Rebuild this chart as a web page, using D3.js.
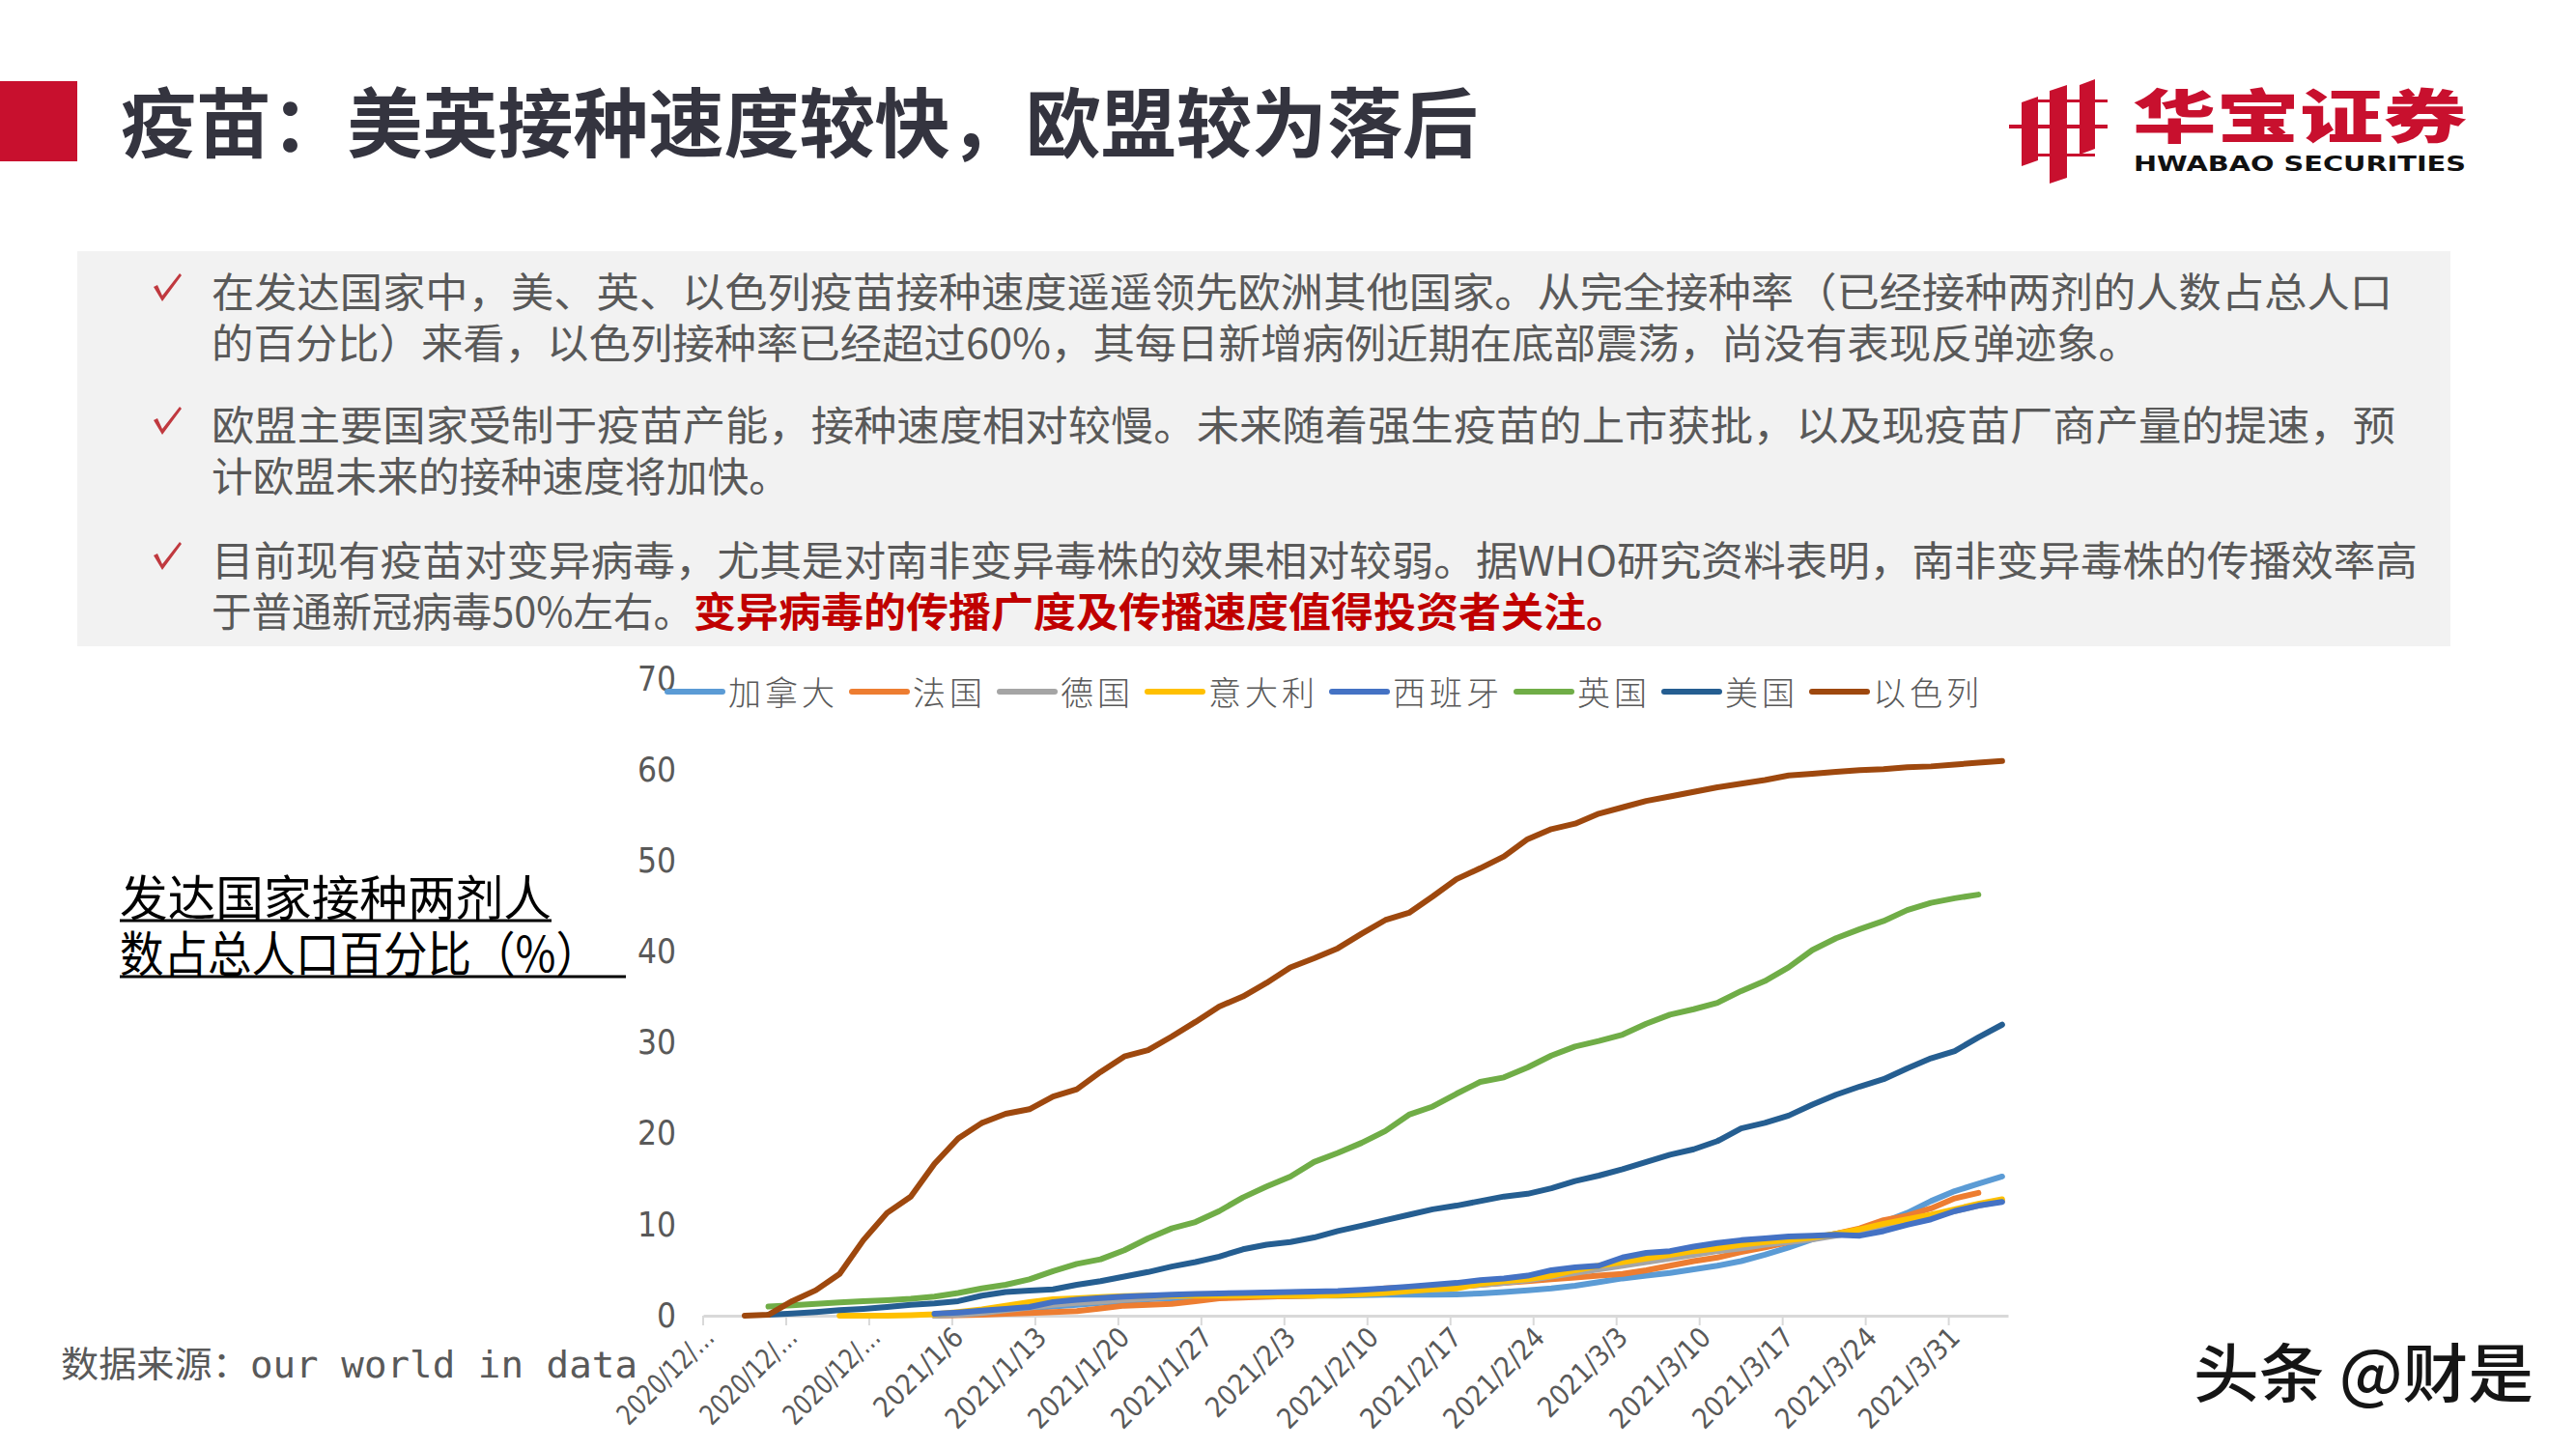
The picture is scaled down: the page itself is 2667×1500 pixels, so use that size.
<!DOCTYPE html>
<html>
<head>
<meta charset="utf-8">
<script src="https://cdn.jsdelivr.net/npm/d3@7"></script>
<style>
body { margin: 0; background: #fff; }
svg { display: block; }
</style>
</head>
<body>
<svg id="page" width="2667" height="1500"></svg>
<script>
// sample days (every second day)
var dates = ["2020/12/17","2020/12/19","2020/12/21","2020/12/23","2020/12/25","2020/12/27","2020/12/29","2020/12/31",
  "2021/1/2","2021/1/4","2021/1/6","2021/1/8","2021/1/10","2021/1/12","2021/1/14","2021/1/16","2021/1/18","2021/1/20",
  "2021/1/22","2021/1/24","2021/1/26","2021/1/28","2021/1/30","2021/2/1","2021/2/3","2021/2/5","2021/2/7","2021/2/9",
  "2021/2/11","2021/2/13","2021/2/15","2021/2/17","2021/2/19","2021/2/21","2021/2/23","2021/2/25","2021/2/27",
  "2021/3/1","2021/3/3","2021/3/5","2021/3/7","2021/3/9","2021/3/11","2021/3/13","2021/3/15","2021/3/17","2021/3/19",
  "2021/3/21","2021/3/23","2021/3/25","2021/3/27","2021/3/29","2021/3/31","2021/4/2","2021/4/4"];

var canada = [null,null,null,null,null,null,null,null,null,
  0.05,0.2,0.4,0.6,0.8,1.0,1.2,1.4,1.6,1.8,1.9,2.0,2.05,2.1,2.1,2.15,2.2,2.2,2.25,2.3,2.3,2.3,2.35,2.45,2.6,2.8,
  3.0,3.3,3.7,4.1,4.4,4.7,5.1,5.5,6.0,6.7,7.5,8.4,9.0,9.4,10.3,11.3,12.6,13.7,14.5,15.3];
var france = [null,null,null,null,null,null,null,null,null,
  0.0,0.05,0.1,0.2,0.3,0.4,0.5,0.8,1.1,1.2,1.3,1.6,1.9,2.0,2.1,2.15,2.2,2.4,2.7,3.0,3.1,3.15,3.2,3.4,3.6,3.8,
  4.0,4.2,4.4,4.6,5.0,5.5,6.0,6.4,7.0,7.5,8.1,8.5,9.0,9.6,10.5,11.0,11.8,12.9,13.5,null];
var germany = [null,null,null,null,null,null,null,null,null,
  0.0,0.1,0.3,0.6,0.9,1.2,1.4,1.55,1.75,1.9,2.1,2.25,2.35,2.4,2.5,2.55,2.6,2.65,2.7,2.85,3.0,3.1,3.2,3.4,3.6,3.9,
  4.3,4.7,5.1,5.5,5.9,6.3,6.7,7.1,7.4,7.8,8.1,8.4,8.8,9.3,9.9,10.4,10.9,11.5,12.1,12.6];
var italy = [null,null,null,null,null,
  0.0,0.0,0.0,0.05,0.15,0.4,0.7,1.1,1.5,1.8,1.9,2.05,2.15,2.2,2.2,2.2,2.2,2.2,2.2,2.2,2.2,2.25,2.35,2.5,2.7,2.9,
  3.0,3.5,3.8,4.0,4.4,5.0,5.5,5.9,6.3,6.7,7.1,7.4,7.8,8.1,8.3,8.6,9.0,9.5,10.1,10.6,11.1,11.7,12.3,12.8];
var spain = [null,null,null,null,null,null,null,null,null,
  0.2,0.35,0.55,0.75,0.95,1.5,1.75,1.95,2.1,2.2,2.3,2.4,2.45,2.5,2.55,2.6,2.65,2.7,2.85,3.0,3.2,3.4,3.6,3.9,4.1,4.4,
  5.0,5.3,5.5,6.4,6.9,7.1,7.6,8.0,8.3,8.5,8.7,8.8,8.9,8.8,9.3,10.0,10.6,11.5,12.1,12.5];
var uk = [null,null,
  1.0,1.15,1.3,1.45,1.6,1.7,1.85,2.1,2.5,3.0,3.4,4.0,4.9,5.7,6.2,7.2,8.5,9.6,10.3,11.5,13.0,14.2,15.3,16.9,17.9,
  19.0,20.3,22.1,23.0,24.4,25.7,26.2,27.3,28.6,29.6,30.2,30.9,32.1,33.1,33.7,34.4,35.7,36.8,38.3,40.2,41.5,42.5,
  43.4,44.6,45.4,45.9,46.3,null];
var us = [null,null,
  0.1,0.25,0.4,0.6,0.75,0.95,1.2,1.35,1.6,2.2,2.6,2.75,2.9,3.4,3.8,4.3,4.8,5.4,5.9,6.5,7.3,7.8,8.1,8.6,9.3,9.9,
  10.5,11.1,11.7,12.1,12.6,13.1,13.4,14.0,14.8,15.4,16.1,16.9,17.7,18.3,19.2,20.6,21.2,22.0,23.2,24.3,25.2,26.0,
  27.2,28.3,29.1,30.6,32.0];
var israel = [null,
  0.0,0.1,1.6,2.8,4.6,8.3,11.3,13.1,16.7,19.5,21.2,22.2,22.7,24.1,24.9,26.8,28.5,29.2,30.7,32.3,34.0,35.1,36.6,
  38.3,39.3,40.4,42.0,43.5,44.3,46.1,48.0,49.2,50.5,52.4,53.5,54.1,55.2,55.9,56.6,57.1,57.6,58.1,58.5,58.9,59.4,
  59.6,59.8,60.0,60.1,60.3,60.4,60.6,60.8,61.0];

var seriesNames = ["加拿大", "法国", "德国", "意大利", "西班牙", "英国", "美国", "以色列"];
var seriesColors = ["#5b9bd5", "#ed7d31", "#a5a5a5", "#ffc000", "#4472c4", "#70ad47", "#255e91", "#9e480e"];
var seriesValues = [canada, france, germany, italy, spain, uk, us, israel];

var tickLabels = ["2020/12/…", "2020/12/…", "2020/12/…", "2021/1/6", "2021/1/13", "2021/1/20", "2021/1/27",
  "2021/2/3", "2021/2/10", "2021/2/17", "2021/2/24", "2021/3/3", "2021/3/10", "2021/3/17", "2021/3/24", "2021/3/31"];
var yTicks = [0, 10, 20, 30, 40, 50, 60, 70];

var title = "疫苗：美英接种速度较快，欧盟较为落后";
var bullets = [
  ["在发达国家中，美、英、以色列疫苗接种速度遥遥领先欧洲其他国家。从完全接种率（已经接种两剂的人数占总人口",
   "的百分比）来看，以色列接种率已经超过60%，其每日新增病例近期在底部震荡，尚没有表现反弹迹象。"],
  ["欧盟主要国家受制于疫苗产能，接种速度相对较慢。未来随着强生疫苗的上市获批，以及现疫苗厂商产量的提速，预",
   "计欧盟未来的接种速度将加快。"],
  ["目前现有疫苗对变异病毒，尤其是对南非变异毒株的效果相对较弱。据WHO研究资料表明，南非变异毒株的传播效率高",
   "于普通新冠病毒50%左右。"]
];
var highlight = "变异病毒的传播广度及传播速度值得投资者关注。";
var sideLabel = ["发达国家接种两剂人", "数占总人口百分比（%）"];
var source = "数据来源：our world in data";
var watermark = "头条 @财是";

var cjk = "'Noto Sans CJK SC', 'Noto Sans', sans-serif";
var narrow = "'Liberation Sans Narrow', 'DejaVu Sans Condensed', 'Liberation Sans', sans-serif";

var svg = d3.select("#page");
svg.append("rect").attr("width", 2667).attr("height", 1500).attr("fill", "#fff");

// header
svg.append("rect").attr("x", 0).attr("y", 84).attr("width", 80).attr("height", 83).attr("fill", "#c8102e");
svg.append("text").attr("x", 125).attr("y", 157)
  .attr("font-family", cjk).attr("font-size", 78).attr("font-weight", 700).attr("fill", "#34343f")
  .attr("textLength", 1405).attr("lengthAdjust", "spacingAndGlyphs")
  .text(title);

// logo
var logo = svg.append("g").attr("fill", "#c8102e");
logo.append("polygon").attr("points", "2093,106 2110,100 2110,166 2093,172");
logo.append("polygon").attr("points", "2122,94 2140,88 2140,184 2122,190");
logo.append("polygon").attr("points", "2153,88 2169,82 2169,154 2153,160");
logo.append("rect").attr("x", 2106).attr("y", 103).attr("width", 76).attr("height", 3);
logo.append("rect").attr("x", 2080).attr("y", 129).attr("width", 102).attr("height", 4);
logo.append("rect").attr("x", 2093).attr("y", 159).attr("width", 76).attr("height", 3);
svg.append("text").attr("x", 2208).attr("y", 143)
  .attr("font-family", cjk).attr("font-size", 60).attr("font-weight", 900).attr("fill", "#c8102e")
  .attr("textLength", 346).attr("lengthAdjust", "spacingAndGlyphs").text("华宝证券");
svg.append("text").attr("x", 2209).attr("y", 177)
  .attr("font-family", "'DejaVu Sans', sans-serif").attr("font-size", 22).attr("font-weight", 700).attr("fill", "#111")
  .attr("textLength", 344).attr("lengthAdjust", "spacingAndGlyphs").text("HWABAO SECURITIES");

// bullet box
svg.append("rect").attr("x", 80).attr("y", 260).attr("width", 2457).attr("height", 409).attr("fill", "#f2f2f2");
var lineBase = [[318, 371], [456, 509], [596, 649]];
var lineEnds = [[2477, 2216], [2480, 818], [2503, 718]];
bullets.forEach(function(b, i) {
  var yb = lineBase[i][0];
  svg.append("path")
    .attr("d", "M159," + (yb - 21) + " L163," + (yb - 23) + " L168," + (yb - 12) + " L186," + (yb - 35) +
      " L188," + (yb - 33) + " L168," + (yb - 6) + " Z")
    .attr("fill", "#c0393f");
  b.forEach(function(t, j) {
    svg.append("text").attr("x", 219).attr("y", lineBase[i][j])
      .attr("font-family", cjk).attr("font-size", 42).attr("fill", "#595959")
      .attr("textLength", lineEnds[i][j] - 219).attr("lengthAdjust", "spacingAndGlyphs")
      .text(t);
  });
});
svg.append("text").attr("x", 718).attr("y", 649)
  .attr("font-family", cjk).attr("font-size", 42).attr("font-weight", 700).attr("fill", "#c00000")
  .attr("textLength", 968).attr("lengthAdjust", "spacingAndGlyphs")
  .text(highlight);

// side label
var sideY = [948, 1006];
var sideLen = [447, 497];
var sideUnder = [[124, 571, 953], [124, 648, 1011]];
sideLabel.forEach(function(t, i) {
  svg.append("text").attr("x", 124).attr("y", sideY[i])
    .attr("font-family", cjk).attr("font-size", 50).attr("fill", "#000")
    .attr("textLength", sideLen[i]).attr("lengthAdjust", "spacingAndGlyphs").text(t);
  svg.append("line").attr("x1", sideUnder[i][0]).attr("x2", sideUnder[i][1])
    .attr("y1", sideUnder[i][2]).attr("y2", sideUnder[i][2])
    .attr("stroke", "#000").attr("stroke-width", 3);
});

svg.append("text").attr("x", 63).attr("y", 1426)
  .attr("font-family", "'DejaVu Sans Mono', " + cjk).attr("font-size", 37).attr("fill", "#595959")
  .attr("textLength", 597).attr("lengthAdjust", "spacingAndGlyphs")
  .text(source);

svg.append("text").attr("x", 2271).attr("y", 1446)
  .attr("font-family", cjk).attr("font-size", 66).attr("font-weight", 500).attr("fill", "#151515")
  .attr("textLength", 352).attr("lengthAdjust", "spacingAndGlyphs")
  .text(watermark);

// chart
var fmt = d3.timeFormat("%Y/%-m/%-d");
var allDays = d3.timeDay.range(new Date(2020, 11, 16), new Date(2021, 3, 5)).map(fmt);

var x = d3.scaleBand().domain(allDays).range([728, 2079]);
var y = d3.scaleLinear().domain([0, 70]).range([1362, 703]);
var bw = x.bandwidth();

var yAxis = svg.append("g").attr("transform", "translate(700,0)")
  .call(d3.axisLeft(y).tickValues(yTicks).tickSize(0).tickPadding(0));
yAxis.select(".domain").remove();
yAxis.selectAll("text").attr("font-family", narrow).attr("font-size", 35).attr("fill", "#595959");

var tickDays = allDays.filter(function(d, i) { return i % 7 === 0; });
var xAxis = svg.append("g").attr("transform", "translate(0,1362)")
  .call(d3.axisBottom(x).tickValues(tickDays)
    .tickFormat(function(d, i) { return tickLabels[i]; })
    .tickSize(10).tickSizeOuter(0));
xAxis.select(".domain").attr("stroke", "#d9d9d9").attr("stroke-width", 3);
xAxis.selectAll(".tick line").attr("stroke", "#d9d9d9").attr("stroke-width", 2)
  .attr("x1", -bw / 2).attr("x2", -bw / 2);
xAxis.selectAll(".tick text")
  .attr("font-family", narrow).attr("font-size", 29).attr("fill", "#595959")
  .attr("text-anchor", "end")
  .attr("x", -12).attr("y", 12).attr("dy", "0.35em")
  .attr("transform", "rotate(-45)")
  .each(function() {
    // Excel squeezes the truncated labels to the width of a short date
    var t = d3.select(this);
    if (t.text().indexOf("…") >= 0) t.attr("textLength", 128).attr("lengthAdjust", "spacingAndGlyphs");
  });

var line = d3.line()
  .defined(function(d) { return d.v != null; })
  .x(function(d) { return x(d.date) + bw / 2; })
  .y(function(d) { return y(d.v); });

seriesValues.forEach(function(vals, k) {
  var pts = dates.map(function(d, i) { return { date: d, v: vals[i] }; });
  svg.append("path").datum(pts)
    .attr("d", line)
    .attr("fill", "none")
    .attr("stroke", seriesColors[k])
    .attr("stroke-width", 6)
    .attr("stroke-linejoin", "round")
    .attr("stroke-linecap", "round");
});

// legend
var lx = 691;
var legend = svg.append("g");
seriesNames.forEach(function(name, k) {
  legend.append("line").attr("x1", lx).attr("x2", lx + 57).attr("y1", 716).attr("y2", 716)
    .attr("stroke", seriesColors[k]).attr("stroke-width", 6).attr("stroke-linecap", "round");
  var t = legend.append("text").attr("x", lx + 63).attr("y", 730)
    .attr("font-family", cjk).attr("font-size", 34).attr("font-weight", 300)
    .attr("letter-spacing", 4).attr("fill", "#595959").text(name);
  lx += 63 + t.node().getComputedTextLength() + 14;
});
</script>
</body>
</html>
